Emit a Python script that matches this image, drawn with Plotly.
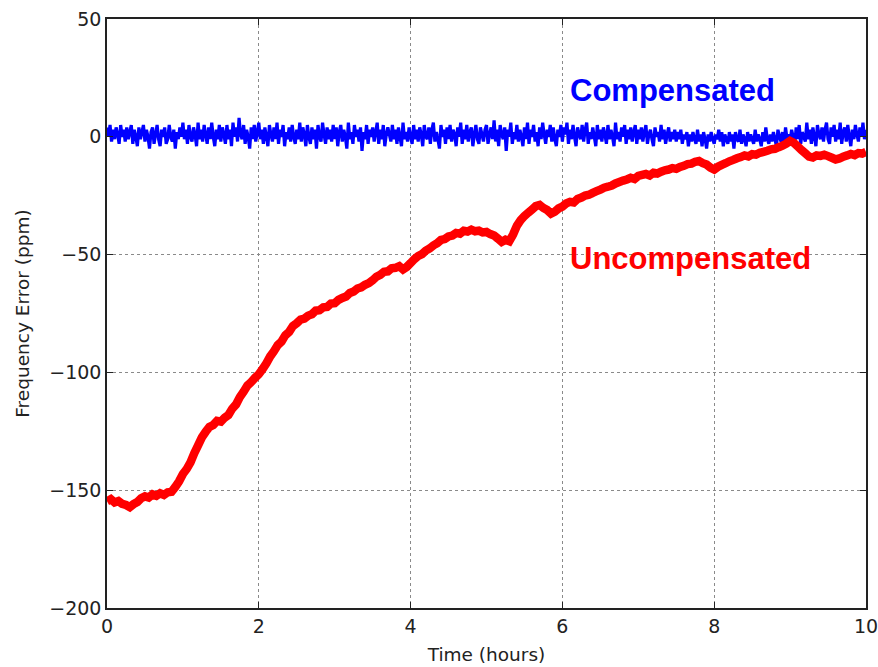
import plotly.graph_objects as go

# ---- data ----
uncompensated = [
    -154.7, -153.8, -155.2, -154.6, -155.8, -156.3, -157.2, -155.9, -155.0, -153.4,
    -152.6, -153.1, -151.8, -152.4, -151.3, -152.0, -150.9, -150.7, -148.6, -146.2,
    -143.1, -141.0, -138.2, -134.3, -131.0, -127.6, -125.2, -123.1, -122.3, -120.6,
    -120.9, -119.2, -118.1, -115.4, -113.6, -110.5, -108.2, -105.6, -104.1, -102.3,
    -100.8, -98.6, -96.1, -93.2, -91.0, -88.4, -86.9, -84.2, -82.8, -80.3,
    -79.1, -77.6, -77.2, -75.9, -75.3, -73.8, -73.6, -72.4, -72.2, -70.8,
    -70.6, -69.2, -68.4, -67.8, -66.3, -65.7, -64.4, -63.9, -62.8, -62.1,
    -60.9, -59.4, -58.6, -57.3, -57.1, -55.8, -55.6, -54.9, -56.3, -55.2,
    -53.6, -51.9, -50.6, -49.8, -48.3, -47.4, -46.1, -45.2, -43.8, -43.4,
    -42.3, -41.9, -40.8, -41.1, -39.9, -40.2, -39.4, -40.1, -39.8, -40.6,
    -40.4, -41.3, -41.9, -43.2, -44.6, -43.7, -44.3, -41.5, -37.8, -35.4,
    -33.6, -32.2, -30.9, -29.4, -28.9, -30.2, -31.1, -32.6, -31.8, -30.4,
    -29.6, -28.3, -27.6, -27.9, -26.4, -25.8, -24.9, -24.6, -23.8, -23.1,
    -22.4, -21.6, -21.2, -20.7, -19.8, -19.2, -18.6, -18.1, -17.4, -17.9,
    -16.6, -16.2, -15.8, -16.4, -15.3, -15.6, -14.8, -14.2, -13.9, -13.3,
    -13.6, -12.8, -12.3, -11.6, -11.4, -10.6, -10.3, -11.2, -11.8, -13.1,
    -13.9, -12.7, -11.9, -11.2, -10.4, -9.8, -9.1, -8.6, -7.9, -8.3,
    -7.4, -7.6, -6.8, -6.4, -5.9, -5.3, -5.1, -4.4, -3.8, -2.9,
    -1.8, -2.6, -4.1, -5.6, -7.0, -8.4, -8.8, -7.9, -8.1, -7.6,
    -8.2, -8.9, -9.6, -9.2, -8.4, -7.9, -7.3, -7.8, -6.9, -7.1,
    -6.4,
]

compensated = [
    4, 0, 5, -2, 3, -1, 4, 1, -3, 5, 0, 3, -2, 4, -1, 2, 5, -3, 3, 0, -4, 4, -1, 2, 5,
    -2, 3, 0, -5, 2, 4, -3, 1, 5, -1, -4, 3, 0, 4, -3, -1, 5, 0, -2, 3, -5, 2, -1, 4, 0,
    6, -1, 3, -3, 5, 0, -2, 4, 1, -4, 6, -1, 3, -2, 5, 1, -3, 4, -1, 6, 0, -4, 3, -1, 5,
    -2, 4, 1, -3, 5, -1, 3, -4, 6, 0, 4, -2, 8, 1, -1, 5, -3, 3, 0, -5, 4, -1, 5, -2, 2,
    6, -1, 3, -3, 4, 0, -4, 5, 1, -2, 4, -1, 6, -3, 3, 0, 5, -4, 2, -1, 4, -2, 5, 0, -3,
    3, -1, 6, -2, 4, 1, -4, 5, 0, -3, 4, -1, 3, -5, 5, 0, -2, 6, 1, -3, 4, -1, 3, -2, 5,
    -1, 4, -4, 2, 5, -2, 3, 0, -5, 6, -1, 2, -3, 5, 0, 3, -2, 4, -6, 2, -1, 5, -3, 3, 0,
    4, -2, 2, 6, -3, 3, -1, 5, -4, 1, 4, 1, -2, 5, -1, 3, -3, 4, 0, -4, 6, -1, 2, -2, 4,
    0, -3, 5, -1, 3, -2, 4, 1, -4, 5, 0, -1, 4, -3, 3, 6, -2, 2, -1, -5, 5, 0, 3, -3, 4,
    -1, 5, -2, 3, 1, -4, 4, 0, 6, -3, 3, -1, 5, -2, 2, 4, -4, 1, 5, -1, -3, 4, 1, -2, 3,
    5, -3, 1, 4, -1, 7, -2, 3, -4, 5, 1, -1, 4, -6, 3, 0, 6, -3, 2, -1, 5, -2, 3, 0, -4,
    4, -1, 6, -3, 3, 0, 5, -2, 2, -4, 4, -1, 6, 1, -3, 3, 0, 5, -2, 4, -1, -4, 3, 0, 5,
    -2, 4, 1, 6, -3, 3, -1, 5, 0, -4, 4, 1, -1, 5, -2, 3, 6, -3, 2, -1, 4, 0, -4, 5, -1,
    3, -2, 4, 1, -3, 5, -1, 3, 0, -4, 6, -1, 2, -2, 4, 0, 5, -3, 3, -1, 4, -2, 2, 5, -3,
    3, -1, 4, -2, 2, 5, -3, 1, 3, -1, -4, 4, 0, 2, -2, 5, -1, 3, -3, 1, 4, -2, 2, -1, 3,
    -2, 2, -1, 3, -3, 1, -1, 2, -4, 1, -2, 2, -1, -3, 3, -2, 1, -4, 2, -1, -5, 1, -2, 2, -1,
    -3, 1, -1, 3, -2, 2, -4, 1, -1, -3, 2, -2, 1, -5, 2, -1, -2, 3, -3, 1, -1, -4, 2, -2, 1,
    -1, -3, 3, -2, 1, -1, -4, 2, -2, 4, -1, -3, 1, -2, 2, -1, -4, 3, 0, -2, 2, -3, 4, -1, 1,
    -2, 3, 0, -4, 4, -1, 5, -3, 2, 0, -2, 6, -1, 3, -3, 4, 0, -4, 5, 1, -1, 4, -2, 3, 6,
    -1, -3, 4, 0, 5, -2, 3, -1, 6, -3, 2, 4, -2, 5, 0, -4, 3, -1, 5, 1, -2, 4, 0, 6, -1,
    3,
]

x_ticks = [0, 2, 4, 6, 8, 10]
y_ticks = [50, 0, -50, -100, -150, -200]
y_tick_text = ["50", "0", "\u221250", "\u2212100", "\u2212150", "\u2212200"]

t_end = 10.0
t_red = [i * t_end / (len(uncompensated) - 1) for i in range(len(uncompensated))]
t_blue = [i * t_end / (len(compensated) - 1) for i in range(len(compensated))]

fig = go.Figure()
fig.add_trace(go.Scatter(x=t_blue, y=compensated, mode="lines",
                         line=dict(color="#0000ff", width=3.2, simplify=False),
                         showlegend=False))
fig.add_trace(go.Scatter(x=t_red, y=uncompensated, mode="lines",
                         line=dict(color="#ff0000", width=8.5, simplify=False),
                         showlegend=False))

fig.add_annotation(x=6.07, y=19.5, xref="x", yref="y", text="<b>Compensated</b>",
                   showarrow=False, xanchor="left", yanchor="middle",
                   font=dict(family="Liberation Sans", size=31, color="#0000ff"))
fig.add_annotation(x=6.07, y=-51.7, xref="x", yref="y", text="<b>Uncompensated</b>",
                   showarrow=False, xanchor="left", yanchor="middle",
                   font=dict(family="Liberation Sans", size=31, color="#ff0000"))

axis_common = dict(
    showline=True, linecolor="#222222", linewidth=1.5, mirror="ticks",
    ticks="inside", ticklen=6, tickwidth=1, tickcolor="#222222",
    showgrid=True, gridcolor="#8a8a8a", griddash="dot", gridwidth=1,
    zeroline=False, automargin=False, ticklabeloverflow="allow",
    tickfont=dict(family="DejaVu Sans", size=19, color="#222222"),
)

fig.update_xaxes(range=[0, 10], tickvals=x_ticks, ticktext=[str(v) for v in x_ticks],
                 title=dict(text="Time (hours)", standoff=13,
                            font=dict(family="DejaVu Sans", size=18.5, color="#222222")),
                 **axis_common)
fig.update_yaxes(range=[-200, 50], tickvals=y_ticks, ticktext=y_tick_text,
                 title=dict(text="Frequency Error (ppm)", standoff=15,
                            font=dict(family="DejaVu Sans", size=18.5, color="#222222")),
                 **axis_common)

fig.update_layout(
    width=878, height=667,
    margin=dict(l=107, r=12, t=19, b=59),
    plot_bgcolor="white", paper_bgcolor="white",
    showlegend=False,
)

fig.write_html("out.html", config={"displayModeBar": False},
               post_script="document.body.style.margin='0px';")
